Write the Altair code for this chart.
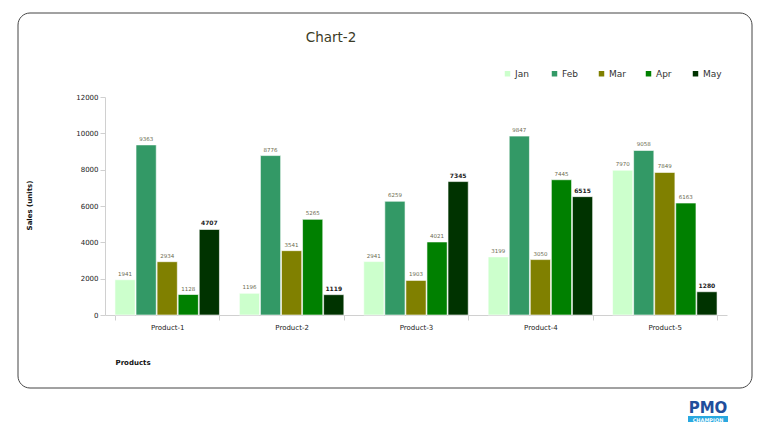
import altair as alt
import pandas as pd

products = ["Product-1", "Product-2", "Product-3", "Product-4", "Product-5"]
months = ["Jan", "Feb", "Mar", "Apr", "May"]
jan = [1941, 1196, 2941, 3199, 7970]
feb = [9363, 8776, 6259, 9847, 9058]
mar = [2934, 3541, 1903, 3050, 7849]
apr = [1128, 5265, 4021, 7445, 6163]
may = [4707, 1119, 7345, 6515, 1280]
colors = ["#CCFFCC", "#339966", "#808000", "#008000", "#003300"]
y_ticks = [0, 2000, 4000, 6000, 8000, 10000, 12000]

series = {"Jan": jan, "Feb": feb, "Mar": mar, "Apr": apr, "May": may}
rows = []
for m in months:
    for p, v in zip(products, series[m]):
        rows.append({"Product": p, "Month": m, "Sales": v})
df = pd.DataFrame(rows)

FONT = "DejaVu Sans"

x = alt.X("Product:N", sort=products,
          scale=alt.Scale(paddingInner=0.16, paddingOuter=0.08),
          axis=alt.Axis(title="Products", labelAngle=0, labelFontSize=7, labelColor="#222",
                        tickBand="extent", domainColor="#d0d0d0", tickColor="#d0d0d0",
                        labelPadding=3, titleFontSize=7, titleFontWeight="bold",
                        titleX=10, titleY=43, titleAnchor="start", titleAlign="left",
                        titleColor="#111"))
y = alt.Y("Sales:Q", scale=alt.Scale(domain=[0, 12000]),
          axis=alt.Axis(title="Sales (units)", values=y_ticks, format="d", grid=False,
                        labelFontSize=7, labelColor="#222", domainColor="#d0d0d0",
                        tickColor="#d0d0d0", titleFontSize=7, titleFontWeight="bold",
                        titleX=-73, titleY=108, titleColor="#111"))
xo = alt.XOffset("Month:N", sort=months, scale=alt.Scale(paddingInner=0.04))

base = alt.Chart(df)

bars = base.mark_bar(stroke="white", strokeWidth=0.6).encode(
    x=x, xOffset=xo, y=y,
    color=alt.Color("Month:N", sort=months,
                    scale=alt.Scale(domain=months, range=colors),
                    legend=alt.Legend(title=None, orient="none", legendX=398, legendY=-28,
                                      direction="horizontal", symbolType="square",
                                      symbolSize=30, symbolStrokeWidth=0, labelFontSize=9,
                                      labelColor="#333", labelFont=FONT, columnPadding=16,
                                      gridAlign="all", labelOffset=3))
)

labels = base.mark_text(dy=-6, fontSize=5.5, color="#6b6b50", font=FONT).encode(
    x=x, xOffset=xo, y=y, text=alt.Text("Sales:Q", format="d")
).transform_filter(alt.datum.Month != "May")

labels_may = base.mark_text(dy=-6, fontSize=6, fontWeight="bold", color="#222", font=FONT).encode(
    x=x, xOffset=xo, y=y, text=alt.Text("Sales:Q", format="d")
).transform_filter(alt.datum.Month == "May")

one = pd.DataFrame({"a": [0]})
frame = alt.Chart(one).mark_rect(fill=None, stroke="#444", strokeWidth=1, cornerRadius=12).encode(
    x=alt.value(-87), x2=alt.value(647), y=alt.value(-84), y2=alt.value(291)
)

title = alt.Chart(pd.DataFrame({"t": ["Chart-2"]})).mark_text(
    fontSize=13.5, color="#3b3b26", font=FONT
).encode(x=alt.value(226), y=alt.value(-59), text="t:N")

logo_text = alt.Chart(pd.DataFrame({"t": ["PMO"]})).mark_text(
    fontSize=15, fontWeight="bold", color="#1f4e9c", font=FONT
).encode(x=alt.value(603), y=alt.value(311), text="t:N")
logo_bar = alt.Chart(one).mark_rect(fill="#29a8e0").encode(
    x=alt.value(583), x2=alt.value(623), y=alt.value(319), y2=alt.value(325)
)
logo_sub = alt.Chart(pd.DataFrame({"t": ["CHAMPION"]})).mark_text(
    fontSize=5, fontWeight="bold", color="white", font=FONT
).encode(x=alt.value(603), y=alt.value(322.5), text="t:N")

chart = alt.layer(frame, title, bars, labels, labels_may, logo_text, logo_bar, logo_sub).properties(
    width=622, height=218,
    autosize=alt.AutoSizeParams(type="none"),
    padding={"left": 97, "top": 89, "right": 33, "bottom": 109},
).configure(font=FONT).configure_view(stroke=None)

chart.save("out.html", embed_options={"renderer": "svg", "actions": False})
